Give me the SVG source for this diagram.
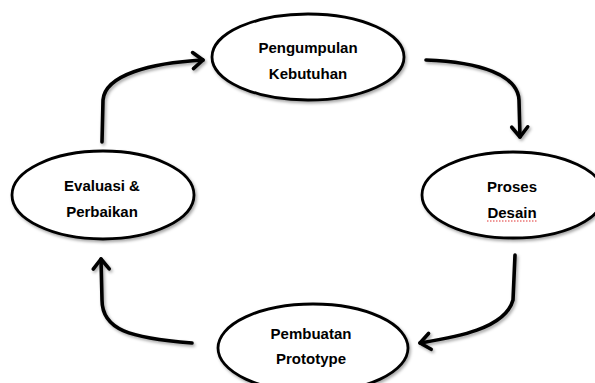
<svg xmlns="http://www.w3.org/2000/svg" width="595" height="383" viewBox="0 0 595 383">
<defs>
<style>
.node ellipse{fill:#fff;stroke:#000;stroke-width:2.8}
.lbl{font-family:"Liberation Sans",Arial,sans-serif;font-weight:bold;font-size:15px;fill:#000;text-anchor:middle}
.arr{fill:none;stroke:#000;stroke-width:3.6;stroke-linecap:round;stroke-linejoin:round;marker-end:url(#head)}
</style>
<filter id="sh" x="-20%" y="-20%" width="140%" height="140%">
<feDropShadow dx="1.5" dy="2" stdDeviation="1.5" flood-color="#000" flood-opacity="0.35"/>
</filter>
<marker id="head" markerUnits="userSpaceOnUse" markerWidth="30" markerHeight="30" viewBox="-15 -15 30 30" refX="0" refY="0" orient="auto">
<path d="M-10,-8 L0,0 L-10,8" fill="none" stroke="#000" stroke-width="3.6" stroke-linecap="round" stroke-linejoin="round"/>
</marker>
</defs>
<rect width="595" height="383" fill="#fff"/>
<g id="connectors" filter="url(#sh)">
<path class="arr" d="M102,142 L103,100 C105,75 150,63 203,60"/>
<path class="arr" d="M426,60 C480,62 518,75 519,100 L520,137"/>
<path class="arr" d="M515,255 L513,300 C505,330 450,338 420,343"/>
<path class="arr" d="M192,343 C130,338 102,330 102,300 L101,259"/>
</g>
<g id="node-pengumpulan" class="node">
<ellipse cx="308" cy="57" rx="96" ry="43" filter="url(#sh)"/>
<text class="lbl" x="308" y="53">Pengumpulan</text>
<text class="lbl" x="308" y="79">Kebutuhan</text>
</g>
<g id="node-proses" class="node">
<ellipse cx="513" cy="195" rx="91" ry="43" filter="url(#sh)"/>
<text class="lbl" x="512" y="192">Proses</text>
<text class="lbl" x="512" y="218">Desain</text>
<line x1="487" y1="221" x2="537" y2="221" stroke="#e03030" stroke-width="1" stroke-dasharray="1.5,1.5"/>
</g>
<g id="node-evaluasi" class="node">
<ellipse cx="103" cy="195" rx="91" ry="44" filter="url(#sh)"/>
<text class="lbl" x="102" y="191">Evaluasi &amp;</text>
<text class="lbl" x="102" y="217">Perbaikan</text>
</g>
<g id="node-pembuatan" class="node">
<ellipse cx="313" cy="348" rx="95" ry="44" filter="url(#sh)"/>
<text class="lbl" x="311" y="339">Pembuatan</text>
<text class="lbl" x="311" y="364">Prototype</text>
</g>
</svg>
